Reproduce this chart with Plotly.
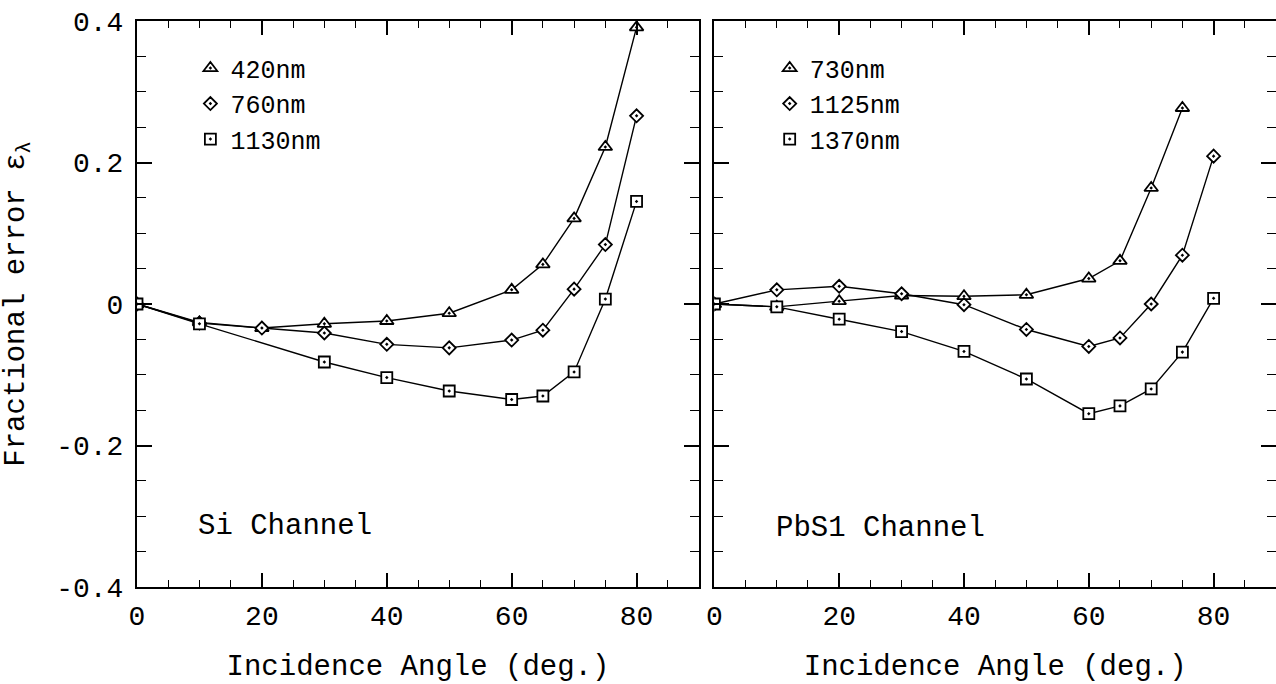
import plotly.graph_objects as go

# ---------------- data ----------------
si_angles_420 = [0, 10, 20, 30, 40, 50, 60, 65, 70, 75, 80]
si_420 = [0, -0.026, -0.034, -0.028, -0.024, -0.013, 0.020, 0.056, 0.121, 0.222, 0.391]
si_angles_760 = [0, 10, 20, 30, 40, 50, 60, 65, 70, 75, 80]
si_760 = [0, -0.027, -0.034, -0.041, -0.057, -0.062, -0.051, -0.037, 0.021, 0.084, 0.266]
si_angles_1130 = [0, 10, 30, 40, 50, 60, 65, 70, 75, 80]
si_1130 = [0, -0.028, -0.082, -0.104, -0.123, -0.135, -0.130, -0.096, 0.007, 0.145]

pbs_angles_730 = [0, 10, 20, 30, 40, 50, 60, 65, 70, 75]
pbs_730 = [0, -0.004, 0.004, 0.012, 0.011, 0.013, 0.036, 0.061, 0.164, 0.277]
pbs_angles_1125 = [0, 10, 20, 30, 40, 50, 60, 65, 70, 75, 80]
pbs_1125 = [0, 0.020, 0.025, 0.0145, -0.001, -0.036, -0.060, -0.048, 0.000, 0.069, 0.209]
pbs_angles_1370 = [0, 10, 20, 30, 40, 50, 60, 65, 70, 75, 80]
pbs_1370 = [0, -0.004, -0.0215, -0.039, -0.067, -0.106, -0.155, -0.144, -0.120, -0.068, 0.008]

si_names = ["420nm", "760nm", "1130nm"]
pbs_names = ["730nm", "1125nm", "1370nm"]
panel_labels = ["Si Channel", "PbS1 Channel"]
x_title = "Incidence Angle (deg.)"
y_title = "Fractional error ε<sub>λ</sub>"

FONT = "Liberation Mono"
symbols = ["triangle-up-dot", "diamond-dot", "square-dot"]
sizes = [12, 10, 11]

fig = go.Figure()

def add_series(xs, ys, name, sym, size, xa, ya, legend):
    fig.add_trace(go.Scatter(
        x=xs, y=ys, mode="lines+markers", name=name, showlegend=False,
        xaxis=xa, yaxis=ya,
        line=dict(color="black", width=1.4),
        marker=dict(symbol=sym, size=size, color="white",
                    line=dict(color="black", width=1.8)),
    ))
    # legend-only marker entry
    fig.add_trace(go.Scatter(
        x=[None], y=[None], mode="markers", name=name, showlegend=True,
        xaxis=xa, yaxis=ya, legend=legend,
        marker=dict(symbol=sym, size=size, color="white",
                    line=dict(color="black", width=1.8)),
    ))

left = [(si_angles_420, si_420), (si_angles_760, si_760), (si_angles_1130, si_1130)]
right = [(pbs_angles_730, pbs_730), (pbs_angles_1125, pbs_1125), (pbs_angles_1370, pbs_1370)]
for i, (xs, ys) in enumerate(left):
    add_series(xs, ys, si_names[i], symbols[i], sizes[i], "x", "y", "legend")
for i, (xs, ys) in enumerate(right):
    add_series(xs, ys, pbs_names[i], symbols[i], sizes[i], "x2", "y2", "legend2")

W, H = 1276, 684
L, R, T, B = 136.6, 0, 20.7, 97.3
pw = W - L - R
ph = H - T - B
left_dom = [0, (698.8 - L) / pw]
right_dom = [(714.2 - L) / pw, 1.0]

xcommon = dict(
    range=[0, 90], tickvals=[0, 20, 40, 60, 80], ticks="inside", ticklen=14,
    tickwidth=1.5, tickcolor="black", showline=True, linecolor="black", linewidth=2,
    mirror="ticks", showgrid=False, zeroline=False,
    tickfont=dict(family=FONT, size=28, color="black"),
    minor=dict(dtick=5, ticks="inside", ticklen=7, tickwidth=1.3, tickcolor="black", showgrid=False),
    title=dict(text=x_title, font=dict(family=FONT, size=29, color="black"), standoff=34),
    ticklabelstandoff=2,
)
ycommon = dict(
    range=[-0.4, 0.4], tickvals=[-0.4, -0.2, 0, 0.2, 0.4], ticktext=["-0.4", "-0.2", "0", "0.2", "0.4"],
    ticks="inside", ticklen=15, tickwidth=1.5, tickcolor="black",
    showline=True, linecolor="black", linewidth=2, mirror="ticks",
    showgrid=False, zeroline=False,
    tickfont=dict(family=FONT, size=28, color="black"),
    minor=dict(dtick=0.05, ticks="inside", ticklen=9, tickwidth=1.3, tickcolor="black", showgrid=False),
)

fig.update_layout(
    width=W, height=H,
    margin=dict(l=L, r=R, t=T, b=B, autoexpand=False),
    paper_bgcolor="white", plot_bgcolor="white",
    font=dict(family=FONT, color="black"),
    xaxis=dict(domain=left_dom, anchor="y", **xcommon),
    xaxis2=dict(domain=right_dom, anchor="y2", **xcommon),
    yaxis=dict(domain=[0, 1], anchor="x", **ycommon,
               title=dict(text=y_title, font=dict(family=FONT, size=29, color="black"), standoff=30),
               ticklabelstandoff=6),
    yaxis2=dict(domain=[0, 1], anchor="x2", matches="y", showticklabels=False,
                **{k: v for k, v in ycommon.items() if k not in ("tickfont",)}),
    legend=dict(x=(190 - L) / pw, y=1 - (45 - T) / ph, xanchor="left", yanchor="top",
                bgcolor="rgba(0,0,0,0)", borderwidth=0, tracegroupgap=0,
                font=dict(family=FONT, size=25, color="black")),
    legend2=dict(x=(769.5 - L) / pw, y=1 - (45 - T) / ph, xanchor="left", yanchor="top",
                 bgcolor="rgba(0,0,0,0)", borderwidth=0, tracegroupgap=0,
                 font=dict(family=FONT, size=25, color="black")),
    showlegend=True,
)

fig.add_annotation(x=9.5, y=-0.314, xref="x", yref="y", text=panel_labels[0], showarrow=False,
                   xanchor="left", yanchor="middle", font=dict(family=FONT, size=29, color="black"))
fig.add_annotation(x=9.5, y=-0.317, xref="x2", yref="y2", text=panel_labels[1], showarrow=False,
                   xanchor="left", yanchor="middle", font=dict(family=FONT, size=29, color="black"))

fig.write_html("out.html")
